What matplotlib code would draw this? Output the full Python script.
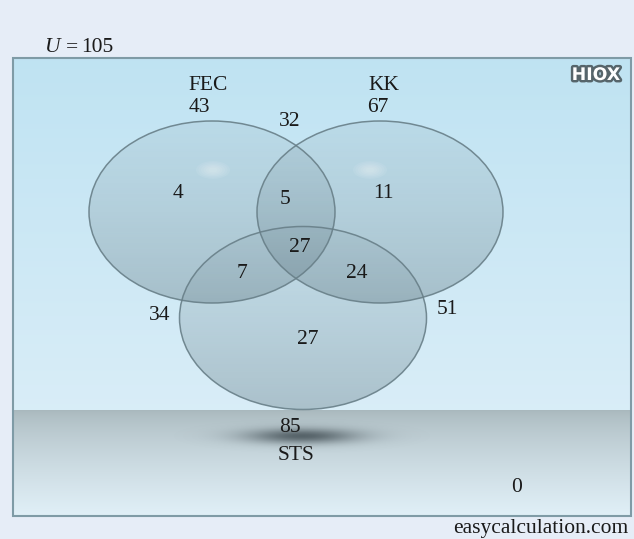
import numpy as np
import matplotlib
matplotlib.use("Agg")
import matplotlib.pyplot as plt
from matplotlib.patches import Ellipse, Rectangle
import matplotlib.patheffects as pe

# ---- data ----
set_names = ["FEC", "KK", "STS"]
set_totals = [43, 67, 85]
only_values = [4, 11, 27]
pair_labels = ["FEC&KK", "FEC&STS", "KK&STS"]
pair_values = [5, 7, 24]
all_three = 27
outer_values = [32, 34, 51]   # values printed just outside the pair borders
universe = 105
none_value = 0

W, H = 634, 539
fig = plt.figure(figsize=(W / 100, H / 100), dpi=100)
ax = fig.add_axes([0, 0, 1, 1])
fig.patch.set_facecolor("#e6edf7")

FONT = "Liberation Serif"
FS = 15.5

# ---- box background ----
bx0, bx1, by0, by1, floor_y = 13, 631, 58, 516, 410
top = np.array([0.75, 0.89, 0.95])
mid = np.array([0.85, 0.93, 0.97])
n = 200
g = np.linspace(0, 1, n)[:, None]
img = top[None, None, :] * (1 - g[..., None]) + mid[None, None, :] * g[..., None]
img = np.repeat(img, 2, axis=1)
ax.imshow(img, extent=(bx0, bx1, floor_y, by0), aspect="auto", zorder=0, interpolation="bilinear")
f_top = np.array([0.66, 0.72, 0.74])
f_bot = np.array([0.88, 0.94, 0.97])
g2 = np.linspace(0, 1, n) ** 0.7
img2 = f_top[None, :] * (1 - g2[:, None]) + f_bot[None, :] * g2[:, None]
img2 = np.repeat(img2[:, None, :], 2, axis=1)
ax.imshow(img2, extent=(bx0, bx1, by1, floor_y), aspect="auto", zorder=0, interpolation="bilinear")
ax.add_patch(Rectangle((bx0, by0), bx1 - bx0, by1 - by0, fill=False,
                       edgecolor="#7f9ba6", lw=1.5, zorder=5))

# ---- shadow under STS (smooth gaussian blob) ----
sx, sy, sw, sh = 302, 436, 260, 60
xx = np.linspace(-1, 1, 300)[None, :]
yy = np.linspace(-1, 1, 100)[:, None]
r2 = (xx / 0.47) ** 2 + (yy / 0.28) ** 2
sh_rgba = np.zeros((100, 300, 4))
sh_rgba[..., :3] = [0.24, 0.29, 0.31]
sh_rgba[..., 3] = 0.8 * np.exp(-r2 * 1.2)
ax.imshow(sh_rgba, extent=(sx - sw / 2, sx + sw / 2, sy + sh / 2, sy - sh / 2),
          aspect="auto", zorder=1, interpolation="bilinear")

# ---- ellipses ----
centers = [(212, 212), (380, 212), (303, 318)]
sizes = [(246, 182), (246, 182), (247, 183)]
base = np.array([0.44, 0.54, 0.58])
for (cx, cy), (w, h) in zip(centers, sizes):
    e = Ellipse((cx, cy), w, h, facecolor="none", edgecolor="none")
    ax.add_patch(e)
    t = np.linspace(0, 1, 200)[:, None]
    rgba = np.zeros((200, 2, 4))
    rgba[..., :3] = base
    rgba[..., 3] = (0.12 + 0.32 * t ** 1.2)
    im = ax.imshow(rgba, extent=(cx - w / 2, cx + w / 2, cy + h / 2, cy - h / 2),
                   aspect="auto", zorder=2, interpolation="bilinear")
    im.set_clip_path(e)
    ax.add_patch(Ellipse((cx, cy), w, h, facecolor="none", edgecolor="#687f88",
                         lw=1.1, alpha=0.9, zorder=3))

# highlights
for hx, hy in [(213, 170), (370, 170)]:
    for k in range(6):
        s = 1 - k / 6
        ax.add_patch(Ellipse((hx, hy), 30 * s + 4, 16 * s + 2, facecolor="white",
                             edgecolor="none", alpha=0.07, zorder=3))

ax.set_xlim(0, W)
ax.set_ylim(H, 0)
ax.axis("off")

# ---- texts ----
def T(x, y, s, **kw):
    kw.setdefault("ha", "center")
    ax.text(x, y, s, fontsize=FS, family=FONT, va="center", color="#1a1a1a", zorder=6, **kw)

T(44, 48, "U", ha="left", style="italic")
T(66, 48, "=", ha="left")
T(81, 48, str(universe), ha="left")
name_pos = [(208, 86), (384, 86), (296, 455)]
total_pos = [(199, 107), (378, 108), (290, 427)]
for nm, tot, npos, tpos in zip(set_names, set_totals, name_pos, total_pos):
    T(*npos, nm)
    T(*tpos, str(tot))
only_pos = [(178, 193), (383, 193), (308, 339)]
for v, p in zip(only_values, only_pos):
    T(*p, str(v))
pair_pos = [(285, 199), (242, 274), (357, 274)]
for v, p in zip(pair_values, pair_pos):
    T(*p, str(v))
T(300, 248, str(all_three))
outer_pos = [(290, 121), (160, 315), (447, 309)]
for v, p in zip(outer_values, outer_pos):
    T(*p, str(v))
T(517, 487, str(none_value))
ax.text(628, 528, "easycalculation.com", fontsize=FS, family=FONT, ha="right",
        va="center", color="#1a1a1a")

ax.text(596, 75, "HIOX", fontsize=12.5, family="DejaVu Sans", weight="bold", ha="center",
        va="center", color="white", zorder=6,
        path_effects=[pe.withStroke(linewidth=3.5, foreground="#56656b")])

fig.savefig("out.png", dpi=100, facecolor=fig.get_facecolor())
